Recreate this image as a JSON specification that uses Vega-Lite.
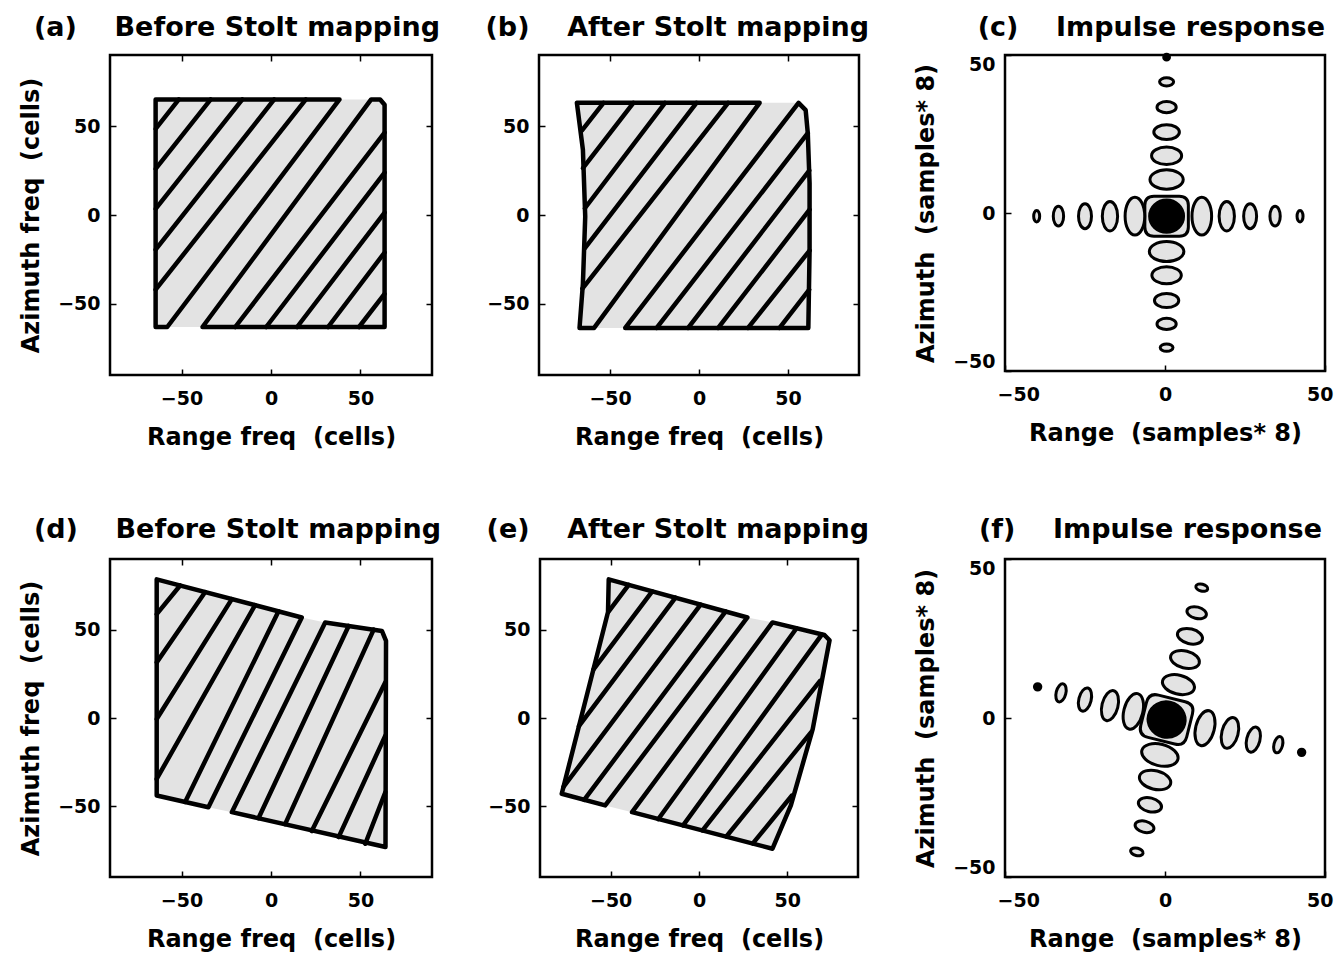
{
  "$schema": "https://vega.github.io/schema/vega-lite/v6.json",
  "background": "white",
  "padding": {"left": 18, "top": 13, "right": 4, "bottom": 2},
  "config": {
    "view": {"stroke": "black", "strokeWidth": 2.5},
    "font": "DejaVu Sans",
    "axis": {
      "labelFont": "DejaVu Sans", "labelFontSize": 19, "labelFontWeight": "bold", "labelColor": "black",
      "titleFont": "DejaVu Sans", "titleFontSize": 24, "titleFontWeight": "bold", "titleColor": "black",
      "tickColor": "black", "tickSize": -6, "tickWidth": 1.5, "domain": false, "grid": false, "labelFlush": false
    },
    "axisX": {"labelPadding": 20, "titlePadding": 17},
    "axisY": {"labelPadding": 16, "titlePadding": 14},
    "title": {"font": "DejaVu Sans", "fontSize": 27, "fontWeight": "bold", "color": "black", "anchor": "end", "frame": "group", "baseline": "alphabetic", "offset": 12}
  },
  "datasets": {
    "poly": [
      {"p": "a", "o": 1, "x": -64.5, "y": 65}, {"p": "a", "o": 2, "x": 61, "y": 65}, {"p": "a", "o": 3, "x": 63.5, "y": 62}, {"p": "a", "o": 4, "x": 63.5, "y": -63}, {"p": "a", "o": 5, "x": -64.5, "y": -63},
      {"p": "b", "o": 1, "x": -68.7, "y": 63.1}, {"p": "b", "o": 2, "x": 56, "y": 63.1}, {"p": "b", "o": 3, "x": 60, "y": 59}, {"p": "b", "o": 4, "x": 61.2, "y": 46}, {"p": "b", "o": 5, "x": 62.2, "y": 18}, {"p": "b", "o": 6, "x": 62.2, "y": -19.8}, {"p": "b", "o": 7, "x": 61.5, "y": -63.5}, {"p": "b", "o": 8, "x": -67.2, "y": -63.5}, {"p": "b", "o": 9, "x": -65.3, "y": -38.6}, {"p": "b", "o": 10, "x": -64, "y": -0.9}, {"p": "b", "o": 11, "x": -65.3, "y": 36.7},
      {"p": "d", "o": 1, "x": -63.9, "y": 78.5}, {"p": "d", "o": 2, "x": 17.2, "y": 56.9}, {"p": "d", "o": 3, "x": 30.3, "y": 54}, {"p": "d", "o": 4, "x": 62, "y": 49.3}, {"p": "d", "o": 5, "x": 64.3, "y": 43.7}, {"p": "d", "o": 6, "x": 64, "y": -73}, {"p": "d", "o": 7, "x": -21.9, "y": -53.3}, {"p": "d", "o": 8, "x": -35, "y": -50.5}, {"p": "d", "o": 9, "x": -63.9, "y": -43.9},
      {"p": "e", "o": 1, "x": -51.1, "y": 78.5}, {"p": "e", "o": 2, "x": 27.4, "y": 56.9}, {"p": "e", "o": 3, "x": 41.6, "y": 54.1}, {"p": "e", "o": 4, "x": 71, "y": 47}, {"p": "e", "o": 5, "x": 73.9, "y": 44}, {"p": "e", "o": 6, "x": 64.4, "y": -6.2}, {"p": "e", "o": 7, "x": 52, "y": -49.5}, {"p": "e", "o": 8, "x": 41.6, "y": -74}, {"p": "e", "o": 9, "x": -37.9, "y": -53.3}, {"p": "e", "o": 10, "x": -53.1, "y": -49.5}, {"p": "e", "o": 11, "x": -77.7, "y": -42.9}, {"p": "e", "o": 12, "x": -51.5, "y": 60}
    ],
    "edges": [
      {"p": "a", "s": 1, "o": 1, "x": -64.5, "y": 65}, {"p": "a", "s": 1, "o": 2, "x": 38.3, "y": 65}, {"p": "a", "s": 1, "o": 3, "x": -58, "y": -63}, {"p": "a", "s": 1, "o": 4, "x": -64.5, "y": -63},
      {"p": "a", "s": 2, "o": 1, "x": -38.3, "y": -63}, {"p": "a", "s": 2, "o": 2, "x": 56, "y": 65}, {"p": "a", "s": 2, "o": 3, "x": 61, "y": 65}, {"p": "a", "s": 2, "o": 4, "x": 63.5, "y": 62}, {"p": "a", "s": 2, "o": 5, "x": 63.5, "y": -63},
      {"p": "b", "s": 1, "o": 1, "x": -68.7, "y": 63.1}, {"p": "b", "s": 1, "o": 2, "x": 34.1, "y": 63.1}, {"p": "b", "s": 1, "o": 3, "x": -59, "y": -63.5}, {"p": "b", "s": 1, "o": 4, "x": -67.2, "y": -63.5}, {"p": "b", "s": 1, "o": 5, "x": -65.3, "y": -38.6}, {"p": "b", "s": 1, "o": 6, "x": -64, "y": -0.9}, {"p": "b", "s": 1, "o": 7, "x": -65.3, "y": 36.7},
      {"p": "b", "s": 2, "o": 1, "x": -41.5, "y": -63.5}, {"p": "b", "s": 2, "o": 2, "x": 56, "y": 63.1}, {"p": "b", "s": 2, "o": 3, "x": 60, "y": 59}, {"p": "b", "s": 2, "o": 4, "x": 61.2, "y": 46}, {"p": "b", "s": 2, "o": 5, "x": 62.2, "y": 18}, {"p": "b", "s": 2, "o": 6, "x": 62.2, "y": -19.8}, {"p": "b", "s": 2, "o": 7, "x": 61.5, "y": -63.5},
      {"p": "d", "s": 1, "o": 1, "x": -63.9, "y": 78.5}, {"p": "d", "s": 1, "o": 2, "x": 17.2, "y": 56.9}, {"p": "d", "s": 1, "o": 3, "x": -35, "y": -50.5}, {"p": "d", "s": 1, "o": 4, "x": -63.9, "y": -43.9},
      {"p": "d", "s": 2, "o": 1, "x": 30.3, "y": 54}, {"p": "d", "s": 2, "o": 2, "x": 62, "y": 49.3}, {"p": "d", "s": 2, "o": 3, "x": 64.3, "y": 43.7}, {"p": "d", "s": 2, "o": 4, "x": 64, "y": -73}, {"p": "d", "s": 2, "o": 5, "x": -21.9, "y": -53.3},
      {"p": "e", "s": 1, "o": 1, "x": -51.1, "y": 78.5}, {"p": "e", "s": 1, "o": 2, "x": 27.4, "y": 56.9}, {"p": "e", "s": 1, "o": 3, "x": -53.1, "y": -49.5}, {"p": "e", "s": 1, "o": 4, "x": -77.7, "y": -42.9}, {"p": "e", "s": 1, "o": 5, "x": -51.5, "y": 60},
      {"p": "e", "s": 2, "o": 1, "x": 41.6, "y": 54.1}, {"p": "e", "s": 2, "o": 2, "x": 71, "y": 47}, {"p": "e", "s": 2, "o": 3, "x": 73.9, "y": 44}, {"p": "e", "s": 2, "o": 4, "x": 64.4, "y": -6.2}, {"p": "e", "s": 2, "o": 5, "x": 52, "y": -49.5}, {"p": "e", "s": 2, "o": 6, "x": 41.6, "y": -74}, {"p": "e", "s": 2, "o": 7, "x": -37.9, "y": -53.3}
    ],
    "hatch": [
      {"p": "a", "l": 1, "x": -64.5, "y": 48.5}, {"p": "a", "l": 1, "x": -51.5, "y": 65},
      {"p": "a", "l": 2, "x": -64.5, "y": 26}, {"p": "a", "l": 2, "x": -33.7, "y": 65},
      {"p": "a", "l": 3, "x": -64.5, "y": 3.5}, {"p": "a", "l": 3, "x": -16, "y": 65},
      {"p": "a", "l": 4, "x": -64.5, "y": -19.5}, {"p": "a", "l": 4, "x": 1.8, "y": 65},
      {"p": "a", "l": 5, "x": -64.5, "y": -42}, {"p": "a", "l": 5, "x": 19.5, "y": 65},
      {"p": "a", "l": 8, "x": -20, "y": -63}, {"p": "a", "l": 8, "x": 63.5, "y": 46.4},
      {"p": "a", "l": 9, "x": -2.7, "y": -63}, {"p": "a", "l": 9, "x": 63.5, "y": 23.9},
      {"p": "a", "l": 10, "x": 14.6, "y": -63}, {"p": "a", "l": 10, "x": 63.5, "y": 1.4},
      {"p": "a", "l": 11, "x": 31.9, "y": -63}, {"p": "a", "l": 11, "x": 63.5, "y": -21.1},
      {"p": "a", "l": 12, "x": 49.2, "y": -63}, {"p": "a", "l": 12, "x": 63.5, "y": -44.4},
      {"p": "b", "l": 1, "x": -65.8, "y": 47.6}, {"p": "b", "l": 1, "x": -53.7, "y": 63.1},
      {"p": "b", "l": 2, "x": -65.3, "y": 26.4}, {"p": "b", "l": 2, "x": -36.9, "y": 63.1},
      {"p": "b", "l": 3, "x": -64.2, "y": 3.8}, {"p": "b", "l": 3, "x": -19.1, "y": 63.1},
      {"p": "b", "l": 4, "x": -64.3, "y": -18.8}, {"p": "b", "l": 4, "x": -1.4, "y": 63.1},
      {"p": "b", "l": 5, "x": -65.6, "y": -41.4}, {"p": "b", "l": 5, "x": 16.4, "y": 63.1},
      {"p": "b", "l": 8, "x": -23.8, "y": -63.5}, {"p": "b", "l": 8, "x": 61.2, "y": 46},
      {"p": "b", "l": 9, "x": -6.1, "y": -63.5}, {"p": "b", "l": 9, "x": 62, "y": 25},
      {"p": "b", "l": 10, "x": 10.8, "y": -63.5}, {"p": "b", "l": 10, "x": 62.2, "y": 3},
      {"p": "b", "l": 11, "x": 27.6, "y": -63.5}, {"p": "b", "l": 11, "x": 62.2, "y": -20},
      {"p": "b", "l": 12, "x": 45.3, "y": -63.5}, {"p": "b", "l": 12, "x": 62, "y": -42},
      {"p": "d", "l": 1, "x": -63.9, "y": 58.8}, {"p": "d", "l": 1, "x": -50.8, "y": 75},
      {"p": "d", "l": 2, "x": -63.9, "y": 31.5}, {"p": "d", "l": 2, "x": -36.8, "y": 71.3},
      {"p": "d", "l": 3, "x": -63.9, "y": -0.6}, {"p": "d", "l": 3, "x": -21.9, "y": 67.3},
      {"p": "d", "l": 4, "x": -63.9, "y": -34.5}, {"p": "d", "l": 4, "x": -8.9, "y": 63.9},
      {"p": "d", "l": 5, "x": -48, "y": -47.5}, {"p": "d", "l": 5, "x": 4.2, "y": 60.4},
      {"p": "d", "l": 7, "x": -7, "y": -56.7}, {"p": "d", "l": 7, "x": 43.4, "y": 52.1},
      {"p": "d", "l": 8, "x": 7.9, "y": -60.1}, {"p": "d", "l": 8, "x": 57.4, "y": 50},
      {"p": "d", "l": 9, "x": 22.8, "y": -64}, {"p": "d", "l": 9, "x": 63.9, "y": 20.2},
      {"p": "d", "l": 10, "x": 37.8, "y": -67.4}, {"p": "d", "l": 10, "x": 63.9, "y": -10},
      {"p": "d", "l": 11, "x": 52.7, "y": -71.2}, {"p": "d", "l": 11, "x": 63.9, "y": -42},
      {"p": "e", "l": 1, "x": -51.3, "y": 60.1}, {"p": "e", "l": 1, "x": -39.8, "y": 75.4},
      {"p": "e", "l": 2, "x": -59.8, "y": 27.4}, {"p": "e", "l": 2, "x": -26.5, "y": 71.7},
      {"p": "e", "l": 3, "x": -68, "y": -4.6}, {"p": "e", "l": 3, "x": -13.3, "y": 68.1},
      {"p": "e", "l": 4, "x": -76.7, "y": -39}, {"p": "e", "l": 4, "x": 0.9, "y": 64.2},
      {"p": "e", "l": 5, "x": -65, "y": -46.3}, {"p": "e", "l": 5, "x": 15.1, "y": 60.3},
      {"p": "e", "l": 7, "x": -23, "y": -57.2}, {"p": "e", "l": 7, "x": 55.2, "y": 50.8},
      {"p": "e", "l": 8, "x": -9, "y": -60.8}, {"p": "e", "l": 8, "x": 69.5, "y": 47.2},
      {"p": "e", "l": 9, "x": 2, "y": -63.6}, {"p": "e", "l": 9, "x": 68.5, "y": 21},
      {"p": "e", "l": 10, "x": 15.5, "y": -67.1}, {"p": "e", "l": 10, "x": 63.5, "y": -8},
      {"p": "e", "l": 11, "x": 30.5, "y": -71}, {"p": "e", "l": 11, "x": 52.5, "y": -44}
    ],
    "lobes": [
      {"p": "c", "k": "ring", "x": 0.5, "y": -1, "m": 6.8, "a": 0},
      {"p": "c", "k": "core", "x": 0.5, "y": -1, "m": 5.3, "a": 0},
      {"p": "c", "k": "v", "x": -9.4, "y": -1, "m": 5.9, "a": 0},
      {"p": "c", "k": "v", "x": -17.2, "y": -1, "m": 4.6, "a": 0},
      {"p": "c", "k": "v", "x": -25, "y": -1, "m": 3.9, "a": 0},
      {"p": "c", "k": "v", "x": -33.3, "y": -1, "m": 3.1, "a": 0},
      {"p": "c", "k": "v", "x": -40.1, "y": -1, "m": 1.8, "a": 0},
      {"p": "c", "k": "v", "x": 11.5, "y": -1, "m": 5.9, "a": 0},
      {"p": "c", "k": "v", "x": 19.3, "y": -1, "m": 4.6, "a": 0},
      {"p": "c", "k": "v", "x": 26.6, "y": -1, "m": 3.9, "a": 0},
      {"p": "c", "k": "v", "x": 34.4, "y": -1, "m": 3.1, "a": 0},
      {"p": "c", "k": "v", "x": 42.2, "y": -1, "m": 1.8, "a": 0},
      {"p": "c", "k": "h", "x": 0.5, "y": 10.6, "m": 5.2, "a": 0},
      {"p": "c", "k": "h", "x": 0.5, "y": 18.1, "m": 4.7, "a": 0},
      {"p": "c", "k": "h", "x": 0.5, "y": 25.6, "m": 4.0, "a": 0},
      {"p": "c", "k": "h", "x": 0.5, "y": 33.5, "m": 3.0, "a": 0},
      {"p": "c", "k": "h", "x": 0.5, "y": 41.5, "m": 2.2, "a": 0},
      {"p": "c", "k": "dot", "x": 0.5, "y": 49.3, "m": 0.9, "a": 0},
      {"p": "c", "k": "h", "x": 0.5, "y": -12.2, "m": 5.4, "a": 0},
      {"p": "c", "k": "h", "x": 0.5, "y": -19.7, "m": 4.6, "a": 0},
      {"p": "c", "k": "h", "x": 0.5, "y": -27.7, "m": 3.8, "a": 0},
      {"p": "c", "k": "h", "x": 0.5, "y": -35.1, "m": 3.0, "a": 0},
      {"p": "c", "k": "h", "x": 0.5, "y": -42.6, "m": 2.0, "a": 0},
      {"p": "f", "k": "ring", "x": 0.5, "y": -0.5, "m": 7.4, "a": 14},
      {"p": "f", "k": "core", "x": 0.5, "y": -0.5, "m": 5.8, "a": 14},
      {"p": "f", "k": "dot", "x": -39.8, "y": 9.8, "m": 1.0, "a": 0},
      {"p": "f", "k": "v", "x": -32.5, "y": 7.9, "m": 2.9, "a": 14},
      {"p": "f", "k": "v", "x": -25, "y": 5.8, "m": 3.7, "a": 14},
      {"p": "f", "k": "v", "x": -17.2, "y": 3.9, "m": 4.8, "a": 14},
      {"p": "f", "k": "v", "x": -9.9, "y": 2.1, "m": 5.7, "a": 14},
      {"p": "f", "k": "v", "x": 12.5, "y": -3.2, "m": 5.6, "a": 14},
      {"p": "f", "k": "v", "x": 20.3, "y": -4.7, "m": 4.9, "a": 14},
      {"p": "f", "k": "v", "x": 27.6, "y": -6.8, "m": 4.0, "a": 14},
      {"p": "f", "k": "v", "x": 35.4, "y": -8.4, "m": 2.6, "a": 14},
      {"p": "f", "k": "dot", "x": 42.7, "y": -10.8, "m": 1.0, "a": 0},
      {"p": "f", "k": "h", "x": 11.5, "y": 41, "m": 1.9, "a": 14},
      {"p": "f", "k": "h", "x": 9.9, "y": 33.1, "m": 3.1, "a": 14},
      {"p": "f", "k": "h", "x": 7.8, "y": 25.7, "m": 4.0, "a": 14},
      {"p": "f", "k": "h", "x": 6.25, "y": 18.4, "m": 4.6, "a": 14},
      {"p": "f", "k": "h", "x": 4.2, "y": 10.5, "m": 5.1, "a": 14},
      {"p": "f", "k": "h", "x": -1.6, "y": -11.6, "m": 5.8, "a": 14},
      {"p": "f", "k": "h", "x": -3.1, "y": -19.5, "m": 5.0, "a": 14},
      {"p": "f", "k": "h", "x": -4.7, "y": -27.3, "m": 3.7, "a": 14},
      {"p": "f", "k": "h", "x": -6.4, "y": -34.2, "m": 3.0, "a": 14},
      {"p": "f", "k": "h", "x": -8.8, "y": -42.1, "m": 2.0, "a": 14}
    ]
  },
  "vconcat": [
    {
      "hconcat": [
        {
          "width": 322, "height": 320,
          "title": {"text": "(a)\u00a0\u00a0\u00a0 Before Stolt mapping", "dx": 8, "offset": 12},
          "resolve": {"axis": {"x": "independent", "y": "independent"}},
          "layer": [
            {"data": {"name": "poly"}, "transform": [{"filter": "datum.p === 'a'"}],
             "mark": {"type": "line", "interpolate": "linear-closed", "fill": "#e3e3e3", "strokeWidth": 0, "strokeOpacity": 0},
             "encoding": {
               "x": {"field": "x", "type": "quantitative", "scale": {"domain": [-90, 90], "nice": false, "zero": false}, "axis": {"values": [-50, 0, 50], "title": "Range freq\u00a0 (cells)"}},
               "y": {"field": "y", "type": "quantitative", "scale": {"domain": [-90, 90], "nice": false, "zero": false}, "axis": {"values": [-50, 0, 50], "title": "Azimuth freq\u00a0 (cells)"}},
               "order": {"field": "o"}}},
            {"data": {"name": "edges"}, "transform": [{"filter": "datum.p === 'a'"}],
             "mark": {"type": "line", "interpolate": "linear-closed", "stroke": "black", "strokeWidth": 4.5, "strokeJoin": "round"},
             "encoding": {
               "x": {"field": "x", "type": "quantitative", "axis": {"orient": "top", "labels": false, "title": null, "values": [-50, 0, 50]}},
               "y": {"field": "y", "type": "quantitative", "axis": {"orient": "right", "labels": false, "title": null, "values": [-50, 0, 50]}},
               "detail": {"field": "s"}, "order": {"field": "o"}}},
            {"data": {"name": "hatch"}, "transform": [{"filter": "datum.p === 'a'"}],
             "mark": {"type": "line", "stroke": "black", "strokeWidth": 4.5, "strokeCap": "round"},
             "encoding": {
               "x": {"field": "x", "type": "quantitative", "axis": null},
               "y": {"field": "y", "type": "quantitative", "axis": null},
               "detail": {"field": "l"}}}
          ]
        },
        {
          "width": 320, "height": 320,
          "title": {"text": "(b)\u00a0\u00a0\u00a0 After Stolt mapping", "dx": 10, "offset": 12},
          "resolve": {"axis": {"x": "independent", "y": "independent"}},
          "layer": [
            {"data": {"name": "poly"}, "transform": [{"filter": "datum.p === 'b'"}],
             "mark": {"type": "line", "interpolate": "linear-closed", "fill": "#e3e3e3", "strokeWidth": 0, "strokeOpacity": 0},
             "encoding": {
               "x": {"field": "x", "type": "quantitative", "scale": {"domain": [-90, 90], "nice": false, "zero": false}, "axis": {"values": [-50, 0, 50], "title": "Range freq\u00a0 (cells)"}},
               "y": {"field": "y", "type": "quantitative", "scale": {"domain": [-90, 90], "nice": false, "zero": false}, "axis": {"values": [-50, 0, 50], "title": null}},
               "order": {"field": "o"}}},
            {"data": {"name": "edges"}, "transform": [{"filter": "datum.p === 'b'"}],
             "mark": {"type": "line", "interpolate": "linear-closed", "stroke": "black", "strokeWidth": 4.5, "strokeJoin": "round"},
             "encoding": {
               "x": {"field": "x", "type": "quantitative", "axis": {"orient": "top", "labels": false, "title": null, "values": [-50, 0, 50]}},
               "y": {"field": "y", "type": "quantitative", "axis": {"orient": "right", "labels": false, "title": null, "values": [-50, 0, 50]}},
               "detail": {"field": "s"}, "order": {"field": "o"}}},
            {"data": {"name": "hatch"}, "transform": [{"filter": "datum.p === 'b'"}],
             "mark": {"type": "line", "stroke": "black", "strokeWidth": 4.5, "strokeCap": "round"},
             "encoding": {
               "x": {"field": "x", "type": "quantitative", "axis": null},
               "y": {"field": "y", "type": "quantitative", "axis": null},
               "detail": {"field": "l"}}}
          ]
        },
        {
          "width": 320, "height": 316,
          "title": {"text": "(c)\u00a0\u00a0\u00a0 Impulse response", "dx": 0, "offset": 6},
          "data": {"name": "lobes"}, "transform": [{"filter": "datum.p === 'c'"}],
          "mark": {"type": "point", "stroke": "black", "strokeWidth": 3, "opacity": 1, "fillOpacity": 1, "strokeOpacity": 1},
          "encoding": {
            "x": {"field": "x", "type": "quantitative", "scale": {"domain": [-50, 50], "nice": false, "zero": false}, "axis": {"values": [-50, 0, 50], "title": "Range\u00a0 (samples* 8)", "labelFlush": true, "labelFlushOffset": 8}},
            "y": {"field": "y", "type": "quantitative", "scale": {"domain": [-50, 50], "nice": false, "zero": false}, "axis": {"values": [-50, 0, 50], "title": "Azimuth\u00a0 (samples* 8)", "labelFlush": true}},
            "shape": {"field": "k", "type": "nominal", "legend": null, "scale": {"domain": ["v", "h", "ring", "core", "dot"], "range": ["M0,-1A0.52,1 0 1,1 0,1A0.52,1 0 1,1 0,-1Z", "M-1,0A1,0.58 0 1,1 1,0A1,0.58 0 1,1 -1,0Z", "M-1,-0.5Q-1,-0.92 -0.58,-0.92L0.58,-0.92Q1,-0.92 1,-0.5L1,0.5Q1,0.92 0.58,0.92L-0.58,0.92Q-1,0.92 -1,0.5Z", "M-1,0A1,0.95 0 1,1 1,0A1,0.95 0 1,1 -1,0Z", "M-1,0A1,1 0 1,1 1,0A1,1 0 1,1 -1,0Z"]}},
            "size": {"field": "m", "type": "quantitative", "legend": null, "scale": {"type": "pow", "exponent": 2, "domain": [0, 10], "range": [0, 4096]}},
            "fill": {"field": "k", "type": "nominal", "legend": null, "scale": {"domain": ["v", "h", "ring", "core", "dot"], "range": ["#e3e3e3", "#e3e3e3", "#e3e3e3", "black", "black"]}},
            "angle": {"field": "a", "type": "quantitative", "scale": null}
          }
        }
      ],
      "spacing": 42
    },
    {
      "hconcat": [
        {
          "width": 322, "height": 318,
          "title": {"text": "(d)\u00a0\u00a0\u00a0 Before Stolt mapping", "dx": 9, "offset": 14},
          "resolve": {"axis": {"x": "independent", "y": "independent"}},
          "layer": [
            {"data": {"name": "poly"}, "transform": [{"filter": "datum.p === 'd'"}],
             "mark": {"type": "line", "interpolate": "linear-closed", "fill": "#e3e3e3", "strokeWidth": 0, "strokeOpacity": 0},
             "encoding": {
               "x": {"field": "x", "type": "quantitative", "scale": {"domain": [-90, 90], "nice": false, "zero": false}, "axis": {"values": [-50, 0, 50], "title": "Range freq\u00a0 (cells)"}},
               "y": {"field": "y", "type": "quantitative", "scale": {"domain": [-90, 90], "nice": false, "zero": false}, "axis": {"values": [-50, 0, 50], "title": "Azimuth freq\u00a0 (cells)"}},
               "order": {"field": "o"}}},
            {"data": {"name": "edges"}, "transform": [{"filter": "datum.p === 'd'"}],
             "mark": {"type": "line", "interpolate": "linear-closed", "stroke": "black", "strokeWidth": 4.5, "strokeJoin": "round"},
             "encoding": {
               "x": {"field": "x", "type": "quantitative", "axis": {"orient": "top", "labels": false, "title": null, "values": [-50, 0, 50]}},
               "y": {"field": "y", "type": "quantitative", "axis": {"orient": "right", "labels": false, "title": null, "values": [-50, 0, 50]}},
               "detail": {"field": "s"}, "order": {"field": "o"}}},
            {"data": {"name": "hatch"}, "transform": [{"filter": "datum.p === 'd'"}],
             "mark": {"type": "line", "stroke": "black", "strokeWidth": 4.5, "strokeCap": "round"},
             "encoding": {
               "x": {"field": "x", "type": "quantitative", "axis": null},
               "y": {"field": "y", "type": "quantitative", "axis": null},
               "detail": {"field": "l"}}}
          ]
        },
        {
          "width": 318, "height": 318,
          "title": {"text": "(e)\u00a0\u00a0\u00a0 After Stolt mapping", "dx": 11, "offset": 14},
          "resolve": {"axis": {"x": "independent", "y": "independent"}},
          "layer": [
            {"data": {"name": "poly"}, "transform": [{"filter": "datum.p === 'e'"}],
             "mark": {"type": "line", "interpolate": "linear-closed", "fill": "#e3e3e3", "strokeWidth": 0, "strokeOpacity": 0},
             "encoding": {
               "x": {"field": "x", "type": "quantitative", "scale": {"domain": [-90, 90], "nice": false, "zero": false}, "axis": {"values": [-50, 0, 50], "title": "Range freq\u00a0 (cells)"}},
               "y": {"field": "y", "type": "quantitative", "scale": {"domain": [-90, 90], "nice": false, "zero": false}, "axis": {"values": [-50, 0, 50], "title": null}},
               "order": {"field": "o"}}},
            {"data": {"name": "edges"}, "transform": [{"filter": "datum.p === 'e'"}],
             "mark": {"type": "line", "interpolate": "linear-closed", "stroke": "black", "strokeWidth": 4.5, "strokeJoin": "round"},
             "encoding": {
               "x": {"field": "x", "type": "quantitative", "axis": {"orient": "top", "labels": false, "title": null, "values": [-50, 0, 50]}},
               "y": {"field": "y", "type": "quantitative", "axis": {"orient": "right", "labels": false, "title": null, "values": [-50, 0, 50]}},
               "detail": {"field": "s"}, "order": {"field": "o"}}},
            {"data": {"name": "hatch"}, "transform": [{"filter": "datum.p === 'e'"}],
             "mark": {"type": "line", "stroke": "black", "strokeWidth": 4.5, "strokeCap": "round"},
             "encoding": {
               "x": {"field": "x", "type": "quantitative", "axis": null},
               "y": {"field": "y", "type": "quantitative", "axis": null},
               "detail": {"field": "l"}}}
          ]
        },
        {
          "width": 320, "height": 318,
          "title": {"text": "(f)\u00a0\u00a0\u00a0 Impulse response", "dx": -3, "offset": 14},
          "data": {"name": "lobes"}, "transform": [{"filter": "datum.p === 'f'"}],
          "mark": {"type": "point", "stroke": "black", "strokeWidth": 3, "opacity": 1, "fillOpacity": 1, "strokeOpacity": 1},
          "encoding": {
            "x": {"field": "x", "type": "quantitative", "scale": {"domain": [-50, 50], "nice": false, "zero": false}, "axis": {"values": [-50, 0, 50], "title": "Range\u00a0 (samples* 8)", "labelFlush": true, "labelFlushOffset": 8}},
            "y": {"field": "y", "type": "quantitative", "scale": {"domain": [-50, 50], "nice": false, "zero": false}, "axis": {"values": [-50, 0, 50], "title": "Azimuth\u00a0 (samples* 8)", "labelFlush": true}},
            "shape": {"field": "k", "type": "nominal", "legend": null, "scale": {"domain": ["v", "h", "ring", "core", "dot"], "range": ["M0,-1A0.52,1 0 1,1 0,1A0.52,1 0 1,1 0,-1Z", "M-1,0A1,0.58 0 1,1 1,0A1,0.58 0 1,1 -1,0Z", "M-1,-0.5Q-1,-0.92 -0.58,-0.92L0.58,-0.92Q1,-0.92 1,-0.5L1,0.5Q1,0.92 0.58,0.92L-0.58,0.92Q-1,0.92 -1,0.5Z", "M-1,0A1,0.95 0 1,1 1,0A1,0.95 0 1,1 -1,0Z", "M-1,0A1,1 0 1,1 1,0A1,1 0 1,1 -1,0Z"]}},
            "size": {"field": "m", "type": "quantitative", "legend": null, "scale": {"type": "pow", "exponent": 2, "domain": [0, 10], "range": [0, 4096]}},
            "fill": {"field": "k", "type": "nominal", "legend": null, "scale": {"domain": ["v", "h", "ring", "core", "dot"], "range": ["#e3e3e3", "#e3e3e3", "#e3e3e3", "black", "black"]}},
            "angle": {"field": "a", "type": "quantitative", "scale": null}
          }
        }
      ],
      "spacing": 42
    }
  ],
  "spacing": 64
}
